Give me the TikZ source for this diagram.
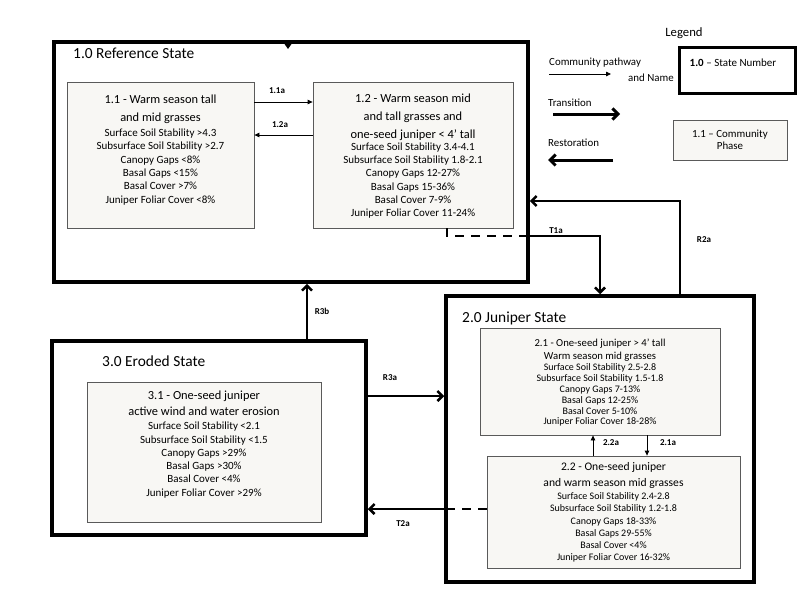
\documentclass[tikz,border=0pt]{standalone}
\usepackage{fontspec}
\setmainfont{Carlito}
\usetikzlibrary{arrows.meta}
\definecolor{phasefill}{RGB}{248,247,244}
\definecolor{phaseline}{RGB}{90,90,90}
\newcommand{\phtitle}{\fontsize{12.4}{13.3}\selectfont}
\newcommand{\phtitlesm}{\fontsize{10.7}{11}\selectfont}
\newcommand{\phtitlemd}{\fontsize{11.6}{12.2}\selectfont}
\begin{document}
\begin{tikzpicture}[x=1pt,y=-1pt,
  statebox/.style={draw=black, line width=3.5pt, inner sep=0pt, fill=white},
  phasebox/.style={draw=phaseline, fill=phasefill, line width=0.8pt, inner sep=0pt},
  ptext/.style={align=center, inner sep=0pt, anchor=north, font=\fontsize{11}{13.3}\selectfont},
  ptextsm/.style={align=center, inner sep=0pt, anchor=north, font=\fontsize{10}{10.8}\selectfont},
  ptextmd/.style={align=center, inner sep=0pt, anchor=north, font=\fontsize{10}{12.2}\selectfont},
  sttitle/.style={font=\fontsize{15.4}{17}\selectfont, inner sep=0pt, anchor=west},
  lbl/.style={font=\fontsize{9}{10}\selectfont\bfseries, inner sep=0pt},
  legtext/.style={font=\fontsize{10.9}{12}\selectfont, inner sep=0pt, anchor=west},
  pathway/.style={line width=0.8pt, -{Triangle[length=5pt,width=4.5pt]}},
  transition/.style={line width=2.5pt, -{Straight Barb[length=5pt,width=10pt]}},
  legarrow/.style={line width=3pt, -{Straight Barb[length=5.5pt,width=11pt]}},
  transdash/.style={line width=2.5pt, dash pattern=on 9pt off 7pt}
]
\useasboundingbox (0,0) rectangle (800,600);
\fill[white] (0,0) rectangle (800,600);

% ---------- state boxes ----------
\node[statebox, minimum width=474pt, minimum height=240pt] (s1) at (291,162) {};
\node[statebox, minimum width=308pt, minimum height=286pt] (s2) at (600,439) {};
\node[statebox, minimum width=314pt, minimum height=194pt] (s3) at (209,438) {};

\node[sttitle] (s1t) at (73,53) {1.0 Reference State};
\node[sttitle] (s2t) at (462,318) {2.0 Juniper State};
\node[sttitle] (s3t) at (102,361) {3.0 Eroded State};

% small tip on the top edge of state 1.0
\fill (284.5,44) -- (291.5,44) -- (288,49) -- cycle;

% ---------- phase boxes ----------
\node[phasebox, minimum width=187pt, minimum height=146pt] (p11) at (160.5,155) {};
\node[phasebox, minimum width=200pt, minimum height=146pt] (p12) at (413,155) {};
\node[phasebox, minimum width=240pt, minimum height=107pt] (p21) at (600,381.5) {};
\node[phasebox, minimum width=253pt, minimum height=112pt] (p22) at (613.5,512) {};
\node[phasebox, minimum width=234pt, minimum height=140pt] (p31) at (204,452) {};

\node[ptext] (p11t) at (160.5,95) {\phtitle 1.1 - Warm season tall\\[4.5pt]
  \phtitle and mid grasses\\[1.7pt]
  Surface Soil Stability >4.3\\
  Subsurface Soil Stability >2.7\\
  Canopy Gaps <8\%\\
  Basal Gaps <15\%\\
  Basal Cover >7\%\\
  Juniper Foliar Cover <8\%};

\node[ptext] (p12t) at (413,94) {\phtitle 1.2 - Warm season mid\\[4.5pt]
  \phtitle and tall grasses and\\[4.5pt]
  \phtitle one-seed juniper < 4’ tall\\[-1.5pt]
  Surface Soil Stability 3.4-4.1\\
  Subsurface Soil Stability 1.8-2.1\\
  Canopy Gaps 12-27\%\\
  Basal Gaps 15-36\%\\
  Basal Cover 7-9\%\\
  Juniper Foliar Cover 11-24\%};

\node[ptextsm] (p21t) at (600,338.5) {\phtitlesm 2.1 - One-seed juniper > 4’ tall\\[2.2pt]
  \phtitlesm Warm season mid grasses\\[0.8pt]
  Surface Soil Stability 2.5-2.8\\
  Subsurface Soil Stability 1.5-1.8\\
  Canopy Gaps 7-13\%\\
  Basal Gaps 12-25\%\\
  Basal Cover 5-10\%\\
  Juniper Foliar Cover 18-28\%};

\node[ptextmd] (p22t) at (613.5,462.5) {\phtitlemd 2.2 - One-seed juniper\\[3.8pt]
  \phtitlemd and warm season mid grasses\\[0.8pt]
  Surface Soil Stability 2.4-2.8\\
  Subsurface Soil Stability 1.2-1.8\\
  Canopy Gaps 18-33\%\\
  Basal Gaps 29-55\%\\
  Basal Cover <4\%\\
  Juniper Foliar Cover 16-32\%};

\node[ptext] (p31t) at (204,390.5) {\phtitle 3.1 - One-seed juniper\\[3pt]
  \phtitle active wind and water erosion\\[0.8pt]
  Surface Soil Stability <2.1\\
  Subsurface Soil Stability <1.5\\
  Canopy Gaps >29\%\\
  Basal Gaps >30\%\\
  Basal Cover <4\%\\
  Juniper Foliar Cover >29\%};

% ---------- helper coordinates ----------
\coordinate (y11a) at (0,102);
\coordinate (y12a) at (0,135);
\coordinate (t1a) at (447,236);
\coordinate (r2a) at (680,201);
\coordinate (x3b) at (307,0);
\coordinate (y3a) at (0,396);
\coordinate (y2a) at (0,509);
\coordinate (x22a) at (593,0);
\coordinate (x21a) at (647,0);

% ---------- community pathways ----------
\draw[pathway] (p11.east |- y11a) -- (p12.west |- y11a);
\draw[pathway] (p12.west |- y12a) -- (p11.east |- y12a);
\draw[pathway] (p22.north -| x22a) -- (p21.south -| x22a);
\draw[pathway] (p21.south -| x21a) -- (p22.north -| x21a);

\node[lbl] (l11a) at (277,91) {1.1a};
\node[lbl] (l12a) at (280,125) {1.2a};
\node[lbl] (l22a) at (611,443) {2.2a};
\node[lbl] (l21a) at (668,443) {2.1a};

% ---------- transitions ----------
\draw[transdash] (p12.south -| t1a) -- (t1a) -- (s1.east |- t1a);
\draw[transition] (s1.east |- t1a) -| (s2.north);
\node[lbl] (lt1a) at (556,231) {T1a};

\draw[transdash] (p22.west |- y2a) -- (s2.west |- y2a);
\draw[transition] (s2.west |- y2a) -- (s3.east |- y2a);
\node[lbl] (lt2a) at (403,524) {T2a};

% ---------- restorations ----------
\draw[transition] (s2.north -| r2a) -- (r2a) -- (s1.east |- r2a);
\node[lbl] (lr2a) at (704,240) {R2a};

\draw[transition] (s3.north -| x3b) -- (s1.south -| x3b);
\node[lbl] (lr3b) at (322,311) {R3b};

\draw[transition] (s3.east |- y3a) -- (s2.west |- y3a);
\node[lbl] (lr3a) at (390,378) {R3a};

% ---------- legend ----------
\node[font=\fontsize{12.7}{14}\selectfont, inner sep=0pt] (leg) at (684,33) {Legend};

\coordinate (cpa) at (549,74);
\coordinate (cpb) at (611,74);
\draw[pathway] (cpa) -- (cpb);
\node[legtext] (lcp) at (549,63) {Community pathway};
\node[legtext] (lcn) at (628,78) {and Name};

\coordinate (tra) at (553,114);
\coordinate (trb) at (620,114);
\draw[legarrow] (tra) -- (trb);
\node[legtext] (ltr) at (548,103) {Transition};

\coordinate (rsa) at (613,160);
\coordinate (rsb) at (548,160);
\draw[legarrow] (rsa) -- (rsb);
\node[legtext] (lrs) at (548,143) {Restoration};

\node[draw=black, line width=3pt, inner sep=0pt, minimum width=116pt, minimum height=46pt] (lsb) at (737,70) {};
\node[font=\fontsize{11}{12}\selectfont, inner sep=0pt] (lsbt) at (733,63) {\textbf{1.0} – State Number};

\node[phasebox, minimum width=114pt, minimum height=40pt, align=center,
      font=\fontsize{10.9}{12}\selectfont] (lpb) at (730,140) {1.1 – Community\\ Phase};
\end{tikzpicture}
\end{document}
